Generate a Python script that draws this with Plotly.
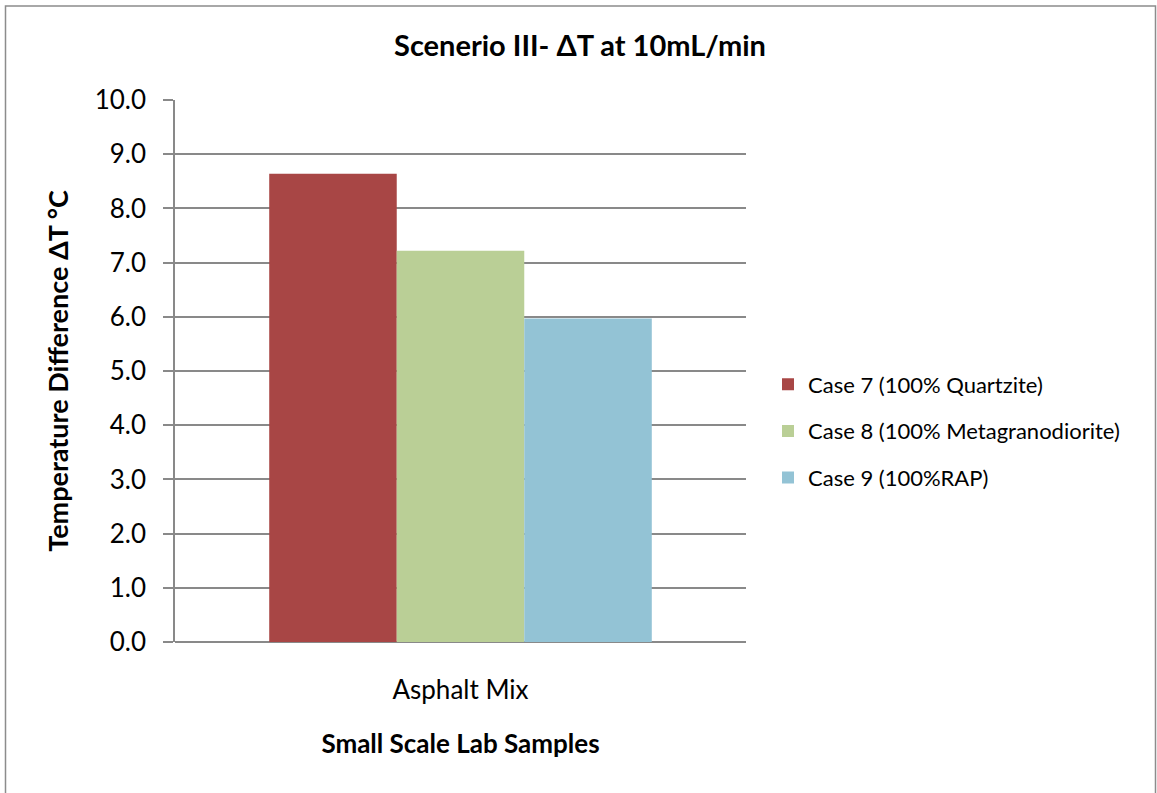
import plotly.graph_objects as go

# Temperature difference per sample case
categories = ["Asphalt Mix"]
series_names = [
    "Case 7 (100% Quartzite)",
    "Case 8 (100% Metagranodiorite)",
    "Case 9 (100%RAP)",
]
series_values = [
    [8.64],
    [7.22],
    [5.97],
]
series_colors = ["#A84645", "#BACF96", "#93C3D5"]
y_ticks = [0, 1, 2, 3, 4, 5, 6, 7, 8, 9, 10]

FONT = "Lato, 'Open Sans', sans-serif"
GRID = "#898989"

# plot-area box in pixels
W, H = 1157, 793
PL, PR, PT, PB = 175, 746, 100, 642

fig = go.Figure()
for name, vals, col in zip(series_names, series_values, series_colors):
    fig.add_trace(go.Bar(
        x=categories, y=vals, name=name, legendgroup=name,
        marker=dict(color=col, line=dict(width=0)),
    ))

fig.update_layout(
    width=W, height=H,
    margin=dict(l=PL, r=W - PR, t=PT, b=H - PB),
    paper_bgcolor="white", plot_bgcolor="white",
    font=dict(family=FONT, color="black"),
    barmode="group", bargap=0.33, bargroupgap=0,
    showlegend=True,
    legend=dict(
        x=(768 - PL) / (PR - PL), xanchor="left",
        y=(PB - 431) / (PB - PT), yanchor="middle",
        font=dict(size=22, family=FONT), tracegroupgap=15,
        bgcolor="rgba(0,0,0,0)",
    ),
    title=dict(
        text="<b>Scenerio III- ΔT at 10mL/min</b>",
        x=580 / W, xanchor="center", y=1 - 46 / H, yanchor="middle",
        font=dict(size=29, family=FONT),
    ),
    xaxis=dict(
        showline=False, showgrid=False, ticks="",
        tickfont=dict(size=26, family=FONT), ticklabelstandoff=30,
        title=dict(text="<b>Small Scale Lab Samples</b>", font=dict(size=26, family=FONT), standoff=30),
    ),
    yaxis=dict(
        range=[0, 10], tickvals=y_ticks, tickformat=".1f",
        showgrid=True, gridcolor=GRID, gridwidth=1.5,
        showline=True, linecolor=GRID, linewidth=1.5,
        ticks="outside", ticklen=10, tickcolor=GRID, tickwidth=1.5,
        tickfont=dict(size=26, family=FONT), ticklabelstandoff=12,
        zeroline=True, zerolinecolor=GRID, zerolinewidth=2,
        title=dict(text="<b>Temperature Difference ΔT °C</b>", font=dict(size=27, family=FONT), standoff=18),
    ),
)

# outer chart frame
fig.add_shape(type="rect", xref="paper", yref="paper",
              x0=(5.5 - PL) / (PR - PL), x1=(1155.5 - PL) / (PR - PL),
              y0=(PB - 800) / (PB - PT), y1=(PB - 6) / (PB - PT),
              line=dict(color="#8C8C8C", width=1.5), fillcolor="rgba(0,0,0,0)", layer="below")

fig.write_html("out.html")
